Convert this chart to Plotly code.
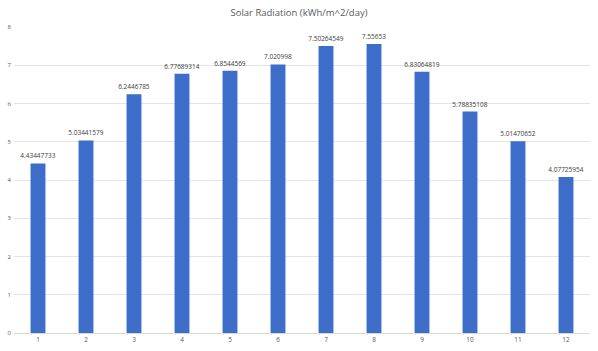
import plotly.graph_objects as go

months = ["1", "2", "3", "4", "5", "6", "7", "8", "9", "10", "11", "12"]
radiation = [4.43447733, 5.03441579, 6.2446785, 6.77689314, 6.8544569, 7.020998,
             7.50264549, 7.55653, 6.83064819, 5.78835108, 5.01470652, 4.07725954]
y_ticks = [0, 1, 2, 3, 4, 5, 6, 7, 8]

fig = go.Figure(go.Bar(
    x=months, y=radiation,
    text=[str(v) for v in radiation],
    textposition="outside",
    textfont=dict(size=6.5, color="#404040", family="Open Sans"),
    marker=dict(color="#3d6dc9", line=dict(width=0)),
    cliponaxis=False,
))

fig.update_layout(
    width=598, height=351,
    margin=dict(l=14, r=8, t=27, b=18),
    paper_bgcolor="white", plot_bgcolor="white",
    bargap=0.69,
    showlegend=False,
    uniformtext=dict(minsize=6.5, mode="show"),
    title=dict(text="Solar Radiation (kWh/m^2/day)", x=0.5, xanchor="center",
               y=1 - 13 / 351, yanchor="middle",
               font=dict(size=9.5, color="#595959", family="Open Sans")),
    xaxis=dict(showgrid=False, showline=True, linecolor="#d9d9d9", linewidth=1,
               tickfont=dict(size=6.5, color="#595959", family="Open Sans"),
               ticks="", ticklen=0),
    yaxis=dict(range=[0, 8], tickvals=y_ticks, showgrid=True, gridcolor="#e3e3e3",
               gridwidth=1, zeroline=False, showline=False,
               tickfont=dict(size=6, color="#595959", family="Open Sans"),
               ticks="", ticklabelstandoff=2),
)

fig.write_html("out.html")
